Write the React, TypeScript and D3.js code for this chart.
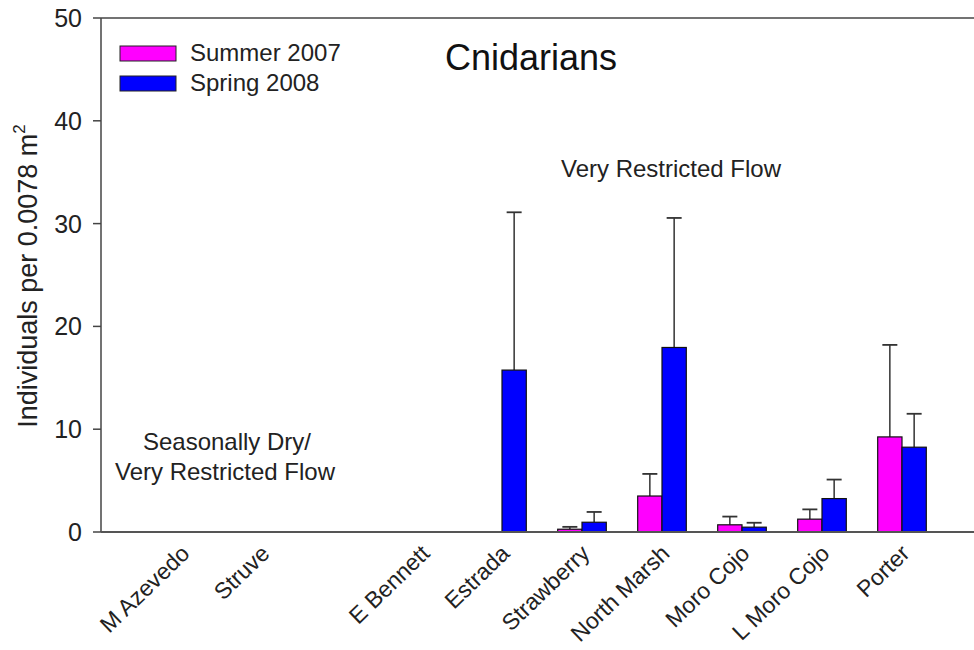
import React from "react";
import * as d3 from "d3";

const categories = ["M Azevedo", "Struve", "", "E Bennett", "Estrada", "Strawberry", "North Marsh", "Moro Cojo", "L Moro Cojo", "Porter"];
const seriesNames = ["Summer 2007", "Spring 2008"];
const summer2007 = [null, null, null, null, null, 0.27, 3.5, 0.7, 1.25, 9.25];
const summer2007Err = [null, null, null, null, null, 0.5, 5.65, 1.5, 2.2, 18.2];
const spring2008 = [null, null, null, null, 15.75, 0.95, 17.95, 0.47, 3.25, 8.25];
const spring2008Err = [null, null, null, null, 31.1, 1.95, 30.55, 0.9, 5.1, 11.5];
const yTicks = [0, 10, 20, 30, 40, 50];
const colors = ["#FF00FF", "#0000FF"];

const W = 974, H = 650;
const FONT = "'Liberation Sans', Arial, sans-serif";

export default function App() {
  const left = 101, top = 18, bottom = 532;
  const y = d3.scaleLinear().domain([0, 50]).range([bottom, top]);
  const x = d3.scaleLinear().domain([-1, 11]).range([102, 102 + 12 * 80]);
  const bw = 24.3;
  const series = [
    { vals: summer2007, errs: summer2007Err, off: -bw },
    { vals: spring2008, errs: spring2008Err, off: 0 },
  ];
  return (
    <svg width={W} height={H} style={{ position: "absolute", left: 0, top: 0, background: "#fff" }} fontFamily={FONT}>
      {/* bars */}
      {series.map((s, si) =>
        s.vals.map((v, i) => {
          if (v == null) return null;
          const cx = x(i);
          const x0 = cx + s.off;
          const e = s.errs[i] as number;
          return (
            <g key={`b${si}-${i}`}>
              <line x1={x0 + bw / 2} x2={x0 + bw / 2} y1={y(v)} y2={y(e)} stroke="#333" strokeWidth={1.5} />
              <line x1={x0 + bw / 2 - 7.5} x2={x0 + bw / 2 + 7.5} y1={y(e)} y2={y(e)} stroke="#333" strokeWidth={1.8} />
              <rect x={x0} y={y(v)} width={bw} height={y(0) - y(v)} fill={colors[si]} stroke="#111" strokeWidth={1.2} />
            </g>
          );
        })
      )}
      {/* axes */}
      <line x1={left} x2={W} y1={top} y2={top} stroke="#444" strokeWidth={1.5} />
      <line x1={left} x2={left} y1={top} y2={bottom} stroke="#444" strokeWidth={1.5} />
      <line x1={left} x2={W} y1={bottom} y2={bottom} stroke="#555" strokeWidth={1.8} />
      {yTicks.map((t) => (
        <g key={t}>
          <line x1={left - 8} x2={left} y1={y(t)} y2={y(t)} stroke="#444" strokeWidth={1.5} />
          <text x={left - 19} y={y(t)} dy="0.36em" textAnchor="end" fontSize={25} fill="#222">{t}</text>
        </g>
      ))}
      <text transform={`translate(37, 276) rotate(-90)`} textAnchor="middle" fontSize={27} fill="#222">
        Individuals per 0.0078 m<tspan dy={-12} fontSize={17}>2</tspan>
      </text>
      {categories.map((c, i) =>
        c ? (
          <text key={c} transform={`translate(${x(i) + 9}, 555) rotate(-44)`} textAnchor="end" fontSize={23} fill="#222">{c}</text>
        ) : null
      )}
      {/* legend */}
      {seriesNames.map((n, i) => (
        <g key={n}>
          <rect x={120} y={46 + i * 30} width={56} height={15} fill={colors[i]} stroke="#222" strokeWidth={1} />
          <text x={190} y={61 + i * 30} fontSize={24} fill="#222">{n}</text>
        </g>
      ))}
      <text x={531} y={70} textAnchor="middle" fontSize={36} fill="#111">Cnidarians</text>
      <text x={671} y={177} textAnchor="middle" fontSize={24} fill="#222">Very Restricted Flow</text>
      <text x={227} y={450} textAnchor="middle" fontSize={24} fill="#222">Seasonally Dry/</text>
      <text x={225} y={480} textAnchor="middle" fontSize={24} fill="#222">Very Restricted Flow</text>
    </svg>
  );
}
